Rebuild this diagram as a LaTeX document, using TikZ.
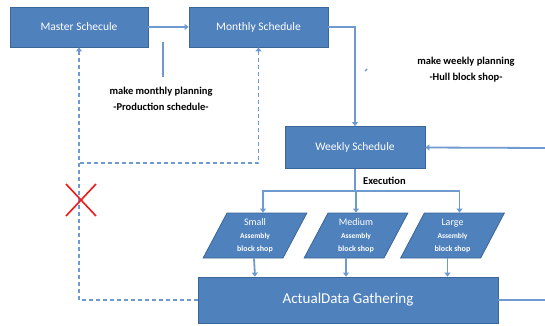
\documentclass[tikz,border=0pt]{standalone}
\usepackage{fontspec}
\setmainfont{Carlito}
\usetikzlibrary{arrows.meta,shapes.geometric}
\definecolor{boxfill}{HTML}{4F81BD}
\definecolor{boxedge}{HTML}{3A6698}
\definecolor{linec}{HTML}{6E9AD0}
\definecolor{xred}{HTML}{F01818}
\tikzset{
  x=1pt,y=-1pt,
  box/.style={draw=boxedge,line width=0.8pt,fill=boxfill,text=white,inner sep=0pt,align=center,font=\fontsize{11.5}{13}\selectfont},
  shopbox/.style={draw=boxedge,line width=0.8pt,fill=boxfill,text=white,inner sep=0pt,align=center,
    trapezium,trapezium left angle=66,trapezium right angle=114,trapezium stretches=true,
    minimum width=104pt,minimum height=45pt},
  conn/.style={draw=linec,line width=1.8pt},
  arr/.style={conn,-{Triangle[width=6pt,length=4pt]}},
  fb/.style={draw=linec,line width=1.8pt,dash pattern=on 4pt off 3pt},
  fbarr/.style={fb,-{Triangle[width=6pt,length=4pt]}},
  lbl/.style={font=\fontsize{10.5}{16}\selectfont\bfseries,align=center,text=black,inner sep=0pt},
}
\begin{document}
\begin{tikzpicture}
\useasboundingbox (0,0) rectangle (545,325);
\node[box,minimum width=138pt,minimum height=40pt] (master) at (79,27) {Master Schecule};
\node[box,minimum width=139pt,minimum height=40pt] (monthly) at (258.5,27) {Monthly Schedule};
\node[box,minimum width=140pt,minimum height=42pt] (weekly) at (355,147.5) {Weekly Schedule};
\node[shopbox] (small) at (255,235.5) {{\fontsize{10}{11}\selectfont Small}\\[1pt]{\fontsize{7.5}{9}\selectfont\bfseries Assembly}\\[1pt]{\fontsize{8}{9}\selectfont\bfseries block shop}};
\node[shopbox] (medium) at (356,235.5) {{\fontsize{10}{11}\selectfont Medium}\\[1pt]{\fontsize{7.5}{9}\selectfont\bfseries Assembly}\\[1pt]{\fontsize{8}{9}\selectfont\bfseries block shop}};
\node[shopbox] (large) at (452.5,235.5) {{\fontsize{10}{11}\selectfont Large}\\[1pt]{\fontsize{7.5}{9}\selectfont\bfseries Assembly}\\[1pt]{\fontsize{8}{9}\selectfont\bfseries block shop}};
\node[box,minimum width=300pt,minimum height=46pt,font=\fontsize{15}{17}\selectfont] (actual) at (348,300) {ActualData Gathering};

% main flow
\draw[arr] (master.east) -- (monthly.west);
\draw[arr] (monthly.east) -| (weekly.north);
\coordinate (rin) at (545,148);
\draw[arr] (rin) -- (weekly.east);
\coordinate (bus) at (355,191);
\draw[conn] (weekly.south) -- (bus);
\draw[arr] (bus) -| ([xshift=8pt]small.north);
\draw[arr] (bus) -| (medium.north);
\draw[arr] (bus) -| ([xshift=7pt]large.north);
\draw[arr] ([xshift=-1pt]small.south) -- (small.south |- actual.north);
\draw[arr] ([xshift=-10pt]medium.south) -- ([xshift=-10pt]medium.south |- actual.north);
\draw[arr] ([xshift=-5pt]large.south) -- ([xshift=-5pt]large.south |- actual.north);
\coordinate (rout) at (545,300);
\draw[conn] (actual.east) -- (rout);

% feedback
\draw[fbarr] (actual.west) -| (master.south);
\coordinate (fbj) at (80,163);
\draw[fbarr] (fbj) -| (monthly.south);

% red cross
\coordinate (xc) at (81,200);
\draw[xred,line width=1.6pt] ([shift={(-15,-16)}]xc) -- ([shift={(15,16)}]xc);
\draw[xred,line width=1.6pt] ([shift={(15,-16)}]xc) -- ([shift={(-15,16)}]xc);

% leader lines
\coordinate (l1a) at (163,42);
\coordinate (l1b) at (163,77);
\draw[draw=linec,line width=1.4pt] (l1a) -- (l1b);
\coordinate (l2a) at (365,71);
\coordinate (l2b) at (367,69);
\draw[draw=linec,line width=1.4pt] (l2a) -- (l2b);

% labels
\node[lbl] (lab1) at (161,98.5) {make monthly planning\\-Production schedule-};
\node[lbl] (lab2) at (466,70) {make weekly planning\\-Hull block shop-};
\node[lbl,anchor=west] (lab3) at (363,181) {Execution};
\end{tikzpicture}
\end{document}
